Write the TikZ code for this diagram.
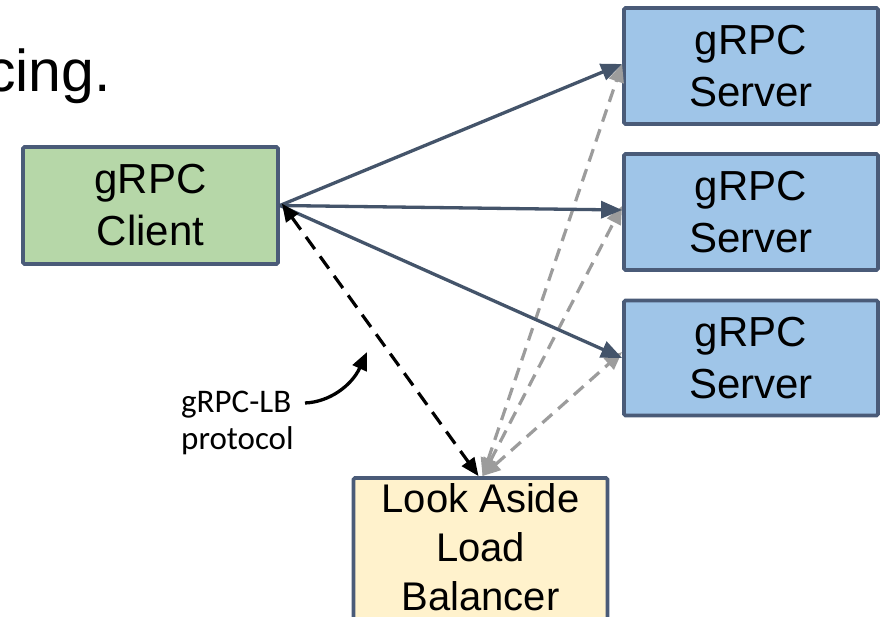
\documentclass[tikz,border=0pt]{standalone}
\usepackage{fontspec}
\setmainfont{Liberation Sans}
\newfontfamily\calib{Carlito}
\usetikzlibrary{arrows.meta}
\definecolor{edgeblue}{HTML}{44546A}
\definecolor{boxline}{HTML}{4A5B78}
\definecolor{cgreen}{HTML}{B6D7A8}
\definecolor{sblue}{HTML}{9FC5E8}
\definecolor{lbyellow}{HTML}{FFF2CC}
\definecolor{dgray}{HTML}{9C9C9C}
\tikzset{
  box/.style={draw=boxline, line width=3.8pt, rounded corners=1.5pt, align=center,
    font=\fontsize{42}{52}\selectfont, inner sep=0pt},
  solidarrow/.style={draw=edgeblue, line width=3.3pt,
    -{Triangle[length=21pt,width=17pt]}},
  blackdash/.style={draw=black, line width=3.2pt, dash pattern=on 15pt off 9pt,
    {Triangle[length=18pt,width=15pt]}-{Triangle[length=18pt,width=15pt]}},
  graydash/.style={draw=dgray, line width=3.2pt, dash pattern=on 13pt off 8pt,
    {Triangle[length=18pt,width=15pt]}-{Triangle[length=18pt,width=15pt]}},
}
\begin{document}
\begin{tikzpicture}[x=1pt,y=-1pt]
\clip (0,0) rectangle (884,617);
\fill[white] (0,0) rectangle (884,617);

\node[anchor=base east, inner sep=0pt, font=\fontsize{59}{60}\selectfont] (title) at (111,92) {cing.};

\node[box, fill=cgreen, minimum width=255pt, minimum height=117pt] (client) at (150.5,205.5) {gRPC\\Client};
\node[box, fill=sblue, minimum width=254pt, minimum height=116pt] (s1) at (751,66) {gRPC\\Server};
\node[box, fill=sblue, minimum width=254pt, minimum height=116pt] (s2) at (751,212) {gRPC\\Server};
\node[box, fill=sblue, minimum width=254pt, minimum height=115pt] (s3) at (751,358) {gRPC\\Server};
\node[box, fill=lbyellow, minimum width=254pt, minimum height=170pt] (lb) at (480.5,563) {};
\node[anchor=north, inner sep=0pt, align=center, font=\fontsize{40}{49}\selectfont] (lbtext) at (480.5,483) {Look Aside\\Load\\Balancer};

% gray dashed
\draw[graydash] ([xshift=2pt]lb.north) -- ([yshift=2pt]s1.west);
\draw[graydash] ([xshift=2pt]lb.north) -- ([yshift=6pt]s2.west);
\draw[graydash] ([xshift=2pt]lb.north) -- ([yshift=6pt]s3.west);

% solid arrows
\draw[solidarrow] (client.east) -- ([yshift=2pt]s1.west);
\draw[solidarrow] (client.east) -- ([yshift=2pt]s2.west);
\draw[solidarrow] (client.east) -- (s3.west);

% black dashed
\draw[blackdash] ([xshift=2pt,yshift=2pt]client.east) -- ([xshift=-2pt]lb.north);

% label
\node[anchor=base west, inner sep=0pt, align=left, font=\calib\fontsize{33}{38}\selectfont] (lbl) at (181,450) {gRPC-LB\\protocol};
\coordinate (lblend) at (305,403);
\coordinate (tip) at (367,352);
\draw[line width=3.3pt, -{Triangle[length=18pt,width=15pt]}] (lblend) .. controls (330,402) and (352,385) .. (tip);
\end{tikzpicture}
\end{document}
